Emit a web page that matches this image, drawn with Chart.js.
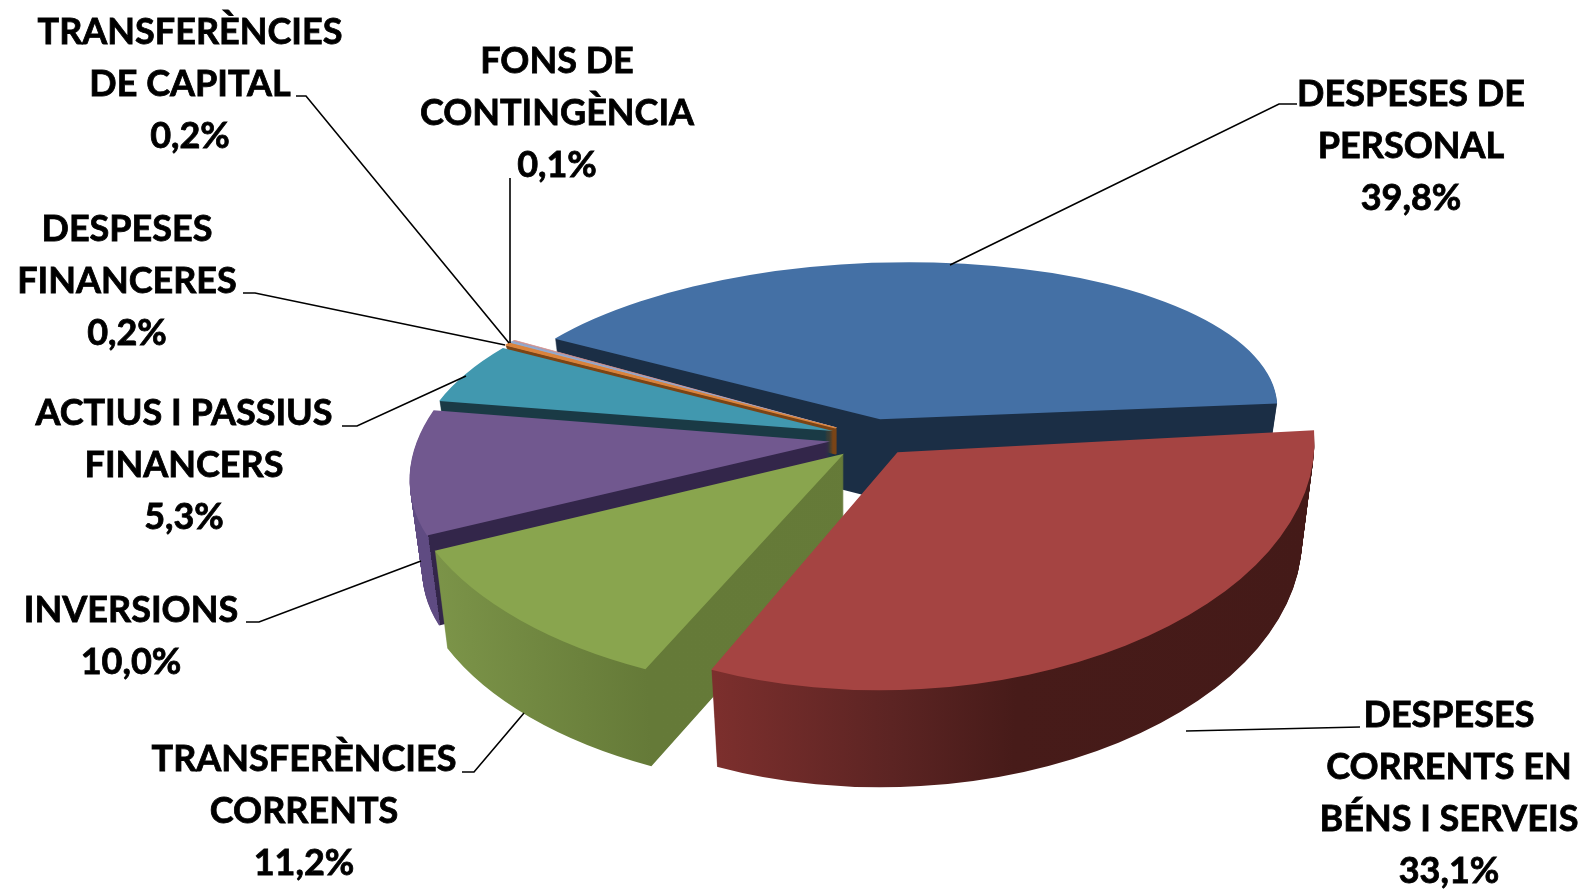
<!DOCTYPE html>
<html>
<head>
<meta charset="utf-8">
<title>Despeses</title>
<script src="https://cdn.jsdelivr.net/npm/chart.js@4"></script>
<style>
  html, body { margin: 0; padding: 0; background: #ffffff; }
  canvas { display: block; }
</style>
</head>
<body>
<canvas id="myChart" width="1589" height="892"></canvas>
<script>
// chart values
const categories = [
  "DESPESES DE PERSONAL",
  "DESPESES CORRENTS EN BÉNS I SERVEIS",
  "TRANSFERÈNCIES CORRENTS",
  "INVERSIONS",
  "ACTIUS I PASSIUS FINANCERS",
  "DESPESES FINANCERES",
  "TRANSFERÈNCIES DE CAPITAL",
  "FONS DE CONTINGÈNCIA",
];
const values = [39.8, 33.1, 11.2, 10.0, 5.3, 0.2, 0.2, 0.1];
const topColors = ["#4470A5", "#A54442", "#89A54E", "#71588F", "#4198AF", "#DB843D", "#93A9CF", "#D19392"];

// how each label is broken into lines
const labelLines = [
  ["DESPESES DE", "PERSONAL"],
  ["DESPESES", "CORRENTS EN", "BÉNS I SERVEIS"],
  ["TRANSFERÈNCIES", "CORRENTS"],
  ["INVERSIONS"],
  ["ACTIUS I PASSIUS", "FINANCERS"],
  ["DESPESES", "FINANCERES"],
  ["TRANSFERÈNCIES", "DE CAPITAL"],
  ["FONS DE", "CONTINGÈNCIA"],
];

// layout of the labels: centre x, first line y
const labelX = [1411, 1449, 304, 131, 184, 127, 190, 557];
const labelY = [94, 715, 759, 610, 413, 229, 32, 61];
const lineGap = 52.2;
const leaders = [
  [[1297, 104], [1279, 104], [950, 265]],
  [[1360, 727], [1186, 731]],
  [[462, 772], [474, 772], [524, 713]],
  [[246, 622], [259, 622], [421, 561]],
  [[342, 426], [357, 426], [466, 376]],
  [[243, 293], [255, 293], [505, 345]],
  [[296, 96], [306, 96], [509, 343]],
  [[510, 178], [510, 343]],
];

// fake 3D view: every slice has its own flattening, as perspective changes it around the pie
const pieX = 860;
const pieY = 436;
const explode = [40, 50, 20, 25, 25, 25, 25, 25];
const nudgeX = [8.6, 9, 0, -3.7, -4, -3.4, -3.4, -3.4];
const nudgeY = [-1.4, -8, 9.5, 3.4, -1.5, -2.8, -2.8, -2.8];
const viewXU = [397, 417, 445, 417, 412, 412, 412, 412];
const viewXV = [-14, -6, -6, -54, -43, -43, -43, -43];
const viewYU = [-6, -7, 0, -12, -5.5, -5.5, -5.5, -5.5];
const viewYV = [157, 238, 239, 205, 169, 169, 169, 169];
const depth = [80, 97, 97, 90, 80, 26, 26, 26];
const outline = [0, 0, 0, 0, 0, 2.5, 1.5, 1.5];
const drawOrder = [0, 7, 6, 5, 4, 3, 2, 1];

// wall colours, by position across the pie (-1 left, 1 right)
const wallStops = [
  [[-1, "#1B2E45"], [1, "#1B2E45"]],
  [[-1, "#7C2F2D"], [-0.43, "#7C2F2D"], [0, "#5C2423"], [0.3, "#471B19"], [1, "#441A18"]],
  [[-1, "#7F984B"], [-0.43, "#657A38"], [1, "#667B39"]],
  [[-1, "#5F4B82"], [-0.912, "#5F4B82"], [-0.912, "#33264A"], [1, "#33264A"]],
  [[-1, "#1A3A45"], [1, "#1A3A45"]],
  [[-1, "#7A4416"], [1, "#7A4416"]],
  [[-1, "#7A4416"], [1, "#7A4416"]],
  [[-1, "#7A4416"], [1, "#7A4416"]],
];

function sliceApex(arc, i) {
  const mid = (arc.startAngle + arc.endAngle) / 2;
  const u = Math.cos(mid) * explode[i] / 400;
  const v = Math.sin(mid) * explode[i] / 400;
  return {
    x: pieX + viewXU[i] * u + viewXV[i] * v + nudgeX[i],
    y: pieY + viewYU[i] * u + viewYV[i] * v + nudgeY[i],
  };
}

function paintSlice(ctx, arc, i, drop, fill) {
  const apex = sliceApex(arc, i);
  const r = arc.outerRadius;
  // the walls narrow a little towards the bottom
  const fx = (1 - 0.03 * drop / depth[i]) / r;
  const fy = 1 / r;
  const opts = arc.options;
  ctx.save();
  ctx.transform(viewXU[i] * fx, viewYU[i] * fy, viewXV[i] * fx, viewYV[i] * fy, apex.x, apex.y + drop);
  ctx.translate(-arc.x, -arc.y);
  arc.options = Object.assign({}, opts, {
    backgroundColor: fill,
    borderColor: fill,
    borderWidth: outline[i],
  });
  arc.draw(ctx);
  arc.options = opts;
  ctx.restore();
}

const pie3d = {
  id: "pie3d",
  beforeDatasetDraw() {
    return false;
  },
  afterDatasetsDraw(chart) {
    const ctx = chart.ctx;
    const arcs = chart.getDatasetMeta(0).data;
    drawOrder.forEach(function (i) {
      const arc = arcs[i];
      const r = arc.outerRadius;
      const grad = ctx.createLinearGradient(arc.x - r, 0, arc.x + r, 0);
      wallStops[i].forEach(function (s) {
        grad.addColorStop((s[0] + 1) / 2, s[1]);
      });
      for (let t = depth[i]; t > 0; t--) {
        paintSlice(ctx, arc, i, t, grad);
      }
      paintSlice(ctx, arc, i, 0, topColors[i]);
    });
  },
  afterDraw(chart) {
    const ctx = chart.ctx;
    ctx.save();
    ctx.strokeStyle = "#000000";
    ctx.lineWidth = 1.6;
    leaders.forEach(function (pts) {
      ctx.beginPath();
      pts.forEach(function (p, k) {
        if (k == 0) ctx.moveTo(p[0], p[1]);
        else ctx.lineTo(p[0], p[1]);
      });
      ctx.stroke();
    });
    ctx.fillStyle = "#000000";
    ctx.lineWidth = 0.8;
    ctx.font = "bold 36px Lato";
    ctx.textAlign = "center";
    ctx.textBaseline = "middle";
    categories.forEach(function (name, i) {
      const lines = labelLines[i].concat(values[i].toFixed(1).replace(".", ",") + "%");
      lines.forEach(function (line, k) {
        ctx.fillText(line, labelX[i], labelY[i] + k * lineGap);
        ctx.strokeText(line, labelX[i], labelY[i] + k * lineGap);
      });
    });
    ctx.restore();
  },
};

const ctx = document.getElementById("myChart").getContext("2d");
const myChart = new Chart(ctx, {
  type: "pie",
  data: {
    labels: categories,
    datasets: [
      {
        data: values,
        backgroundColor: topColors,
        borderWidth: 0,
      },
    ],
  },
  options: {
    responsive: false,
    animation: false,
    events: [],
    rotation: -57,
    layout: { padding: 0 },
    plugins: {
      legend: { display: false },
      tooltip: { enabled: false },
    },
  },
  plugins: [pie3d],
});
</script>
</body>
</html>
